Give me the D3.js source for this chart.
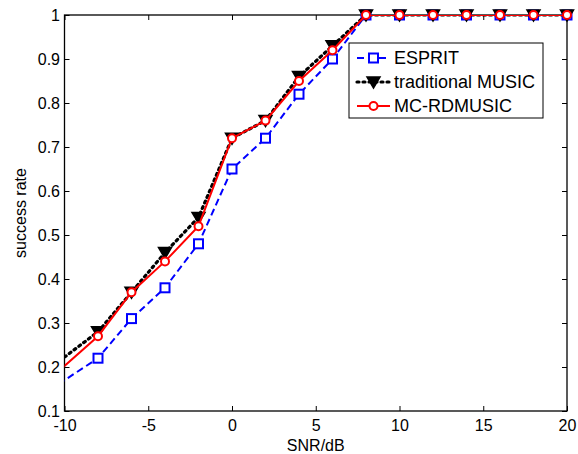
<!DOCTYPE html>
<html>
<head>
<meta charset="utf-8">
<script src="https://cdn.jsdelivr.net/npm/d3@7"></script>
<style>
  body { margin: 0; background: #fff; }
  text { font-family: "Liberation Sans", Arial, sans-serif; fill: #000; }
</style>
</head>
<body>
<div id="graph"></div>
<script>
// donnees (x = -12 est hors cadre, coupe par le clip)
var snr = [-12, -8, -6, -4, -2, 0, 2, 4, 6, 8, 10, 12, 14, 16, 18, 20];
var esprit = [0.12, 0.22, 0.31, 0.38, 0.48, 0.65, 0.72, 0.82, 0.90, 1, 1, 1, 1, 1, 1, 1];
var music = [0.165, 0.28, 0.37, 0.46, 0.54, 0.72, 0.76, 0.86, 0.93, 1, 1, 1, 1, 1, 1, 1];
var mcrd = [0.135, 0.27, 0.37, 0.44, 0.52, 0.72, 0.76, 0.85, 0.92, 1, 1, 1, 1, 1, 1, 1];
var xTicks = [-10, -5, 0, 5, 10, 15, 20];
var yTicks = [0.1, 0.2, 0.3, 0.4, 0.5, 0.6, 0.7, 0.8, 0.9, 1];
var legendNames = ["ESPRIT", "traditional MUSIC", "MC-RDMUSIC"];

var margin = {top: 15, right: 11, bottom: 43, left: 64.5},
    W = 578, H = 454,
    width = W - margin.left - margin.right,
    height = H - margin.top - margin.bottom;

var svg = d3.select("#graph").append("svg")
    .attr("width", W).attr("height", H);

var g = svg.append("g")
    .attr("transform", "translate(" + margin.left + "," + margin.top + ")");

var x = d3.scaleLinear().domain([-10, 20]).range([0, width]);
var y = d3.scaleLinear().domain([0.1, 1]).range([height, 0]);

svg.append("defs").append("clipPath").attr("id", "clip")
  .append("rect").attr("width", width).attr("height", height);

// axes (ticks vers l'interieur, facon matlab)
function styleAxis(sel) {
  sel.select(".domain").remove();
  sel.selectAll("line").attr("stroke", "#000").attr("stroke-width", 1);
  sel.selectAll("text").style("font-size", "16px");
}
g.append("g").attr("transform", "translate(0," + height + ")")
  .call(d3.axisBottom(x).tickValues(xTicks).tickSize(-5).tickPadding(9).tickFormat(function(d) { return String(d); }))
  .call(styleAxis);
g.append("g").call(d3.axisTop(x).tickValues(xTicks).tickSize(-5).tickFormat(""))
  .call(styleAxis);
g.append("g")
  .call(d3.axisLeft(y).tickValues(yTicks).tickSize(-5).tickPadding(4.5).tickFormat(function(d) { return d === 1 ? "1" : d.toFixed(1); }))
  .call(styleAxis);
g.append("g").attr("transform", "translate(" + width + ",0)")
  .call(d3.axisRight(y).tickValues(yTicks).tickSize(-5).tickFormat(""))
  .call(styleAxis);

g.append("rect").attr("width", width).attr("height", height)
  .attr("fill", "none").attr("stroke", "#000").attr("stroke-width", 1.3);

// labels
svg.append("text").attr("x", margin.left + width / 2).attr("y", 451)
  .attr("text-anchor", "middle").style("font-size", "16px").text("SNR/dB");
svg.append("text").attr("transform", "translate(26," + (margin.top + height / 2) + ") rotate(-90)")
  .attr("text-anchor", "middle").style("font-size", "16px").text("success rate");

var series = [
  {vals: esprit, color: "#0000ff", dash: "7,4", w: 2, marker: "square"},
  {vals: music, color: "#000", dash: "2,4", w: 3.2, marker: "tri"},
  {vals: mcrd, color: "#ff0000", dash: null, w: 2, marker: "circle"}
];

function drawMarker(sel, s) {
  if (s.marker === "square") {
    sel.append("rect").attr("x", -4.5).attr("y", -4.5).attr("width", 9).attr("height", 9)
      .attr("fill", "#fff").attr("stroke", s.color).attr("stroke-width", 2);
  } else if (s.marker === "tri") {
    sel.append("path").attr("d", "M-6.5,-5L6.5,-5L0,6Z")
      .attr("fill", "#000").attr("stroke", "#000").attr("stroke-width", 1.5);
  } else {
    sel.append("circle").attr("r", 4)
      .attr("fill", "#fff").attr("stroke", s.color).attr("stroke-width", 2);
  }
}

var line = d3.line().x(function(d) { return x(d[0]); }).y(function(d) { return y(d[1]); });

series.forEach(function(s) {
  var pts = snr.map(function(v, i) { return [v, s.vals[i]]; });
  g.append("path").datum(pts)
    .attr("clip-path", "url(#clip)")
    .attr("fill", "none").attr("stroke", s.color).attr("stroke-width", s.w)
    .attr("stroke-dasharray", s.dash)
    .attr("stroke-linecap", s.marker === "tri" ? "round" : "butt")
    .attr("d", line);
  pts.filter(function(p) { return p[0] >= -10; }).forEach(function(p) {
    var m = g.append("g").attr("transform", "translate(" + x(p[0]) + "," + y(p[1]) + ")");
    drawMarker(m, s);
  });
});

// legende
var lg = svg.append("g").attr("transform", "translate(349,43)");
lg.append("rect").attr("width", 194).attr("height", 75)
  .attr("fill", "#fff").attr("stroke", "#000").attr("stroke-width", 1);
series.forEach(function(s, i) {
  var yy = 15 + i * 24;
  lg.append("line").attr("x1", 8).attr("x2", 41).attr("y1", yy).attr("y2", yy)
    .attr("stroke", s.color).attr("stroke-width", s.w)
    .attr("stroke-dasharray", s.dash)
    .attr("stroke-linecap", s.marker === "tri" ? "round" : "butt");
  var m = lg.append("g").attr("transform", "translate(24.5," + yy + ")");
  drawMarker(m, s);
  lg.append("text").attr("x", 45).attr("y", yy + 6)
    .style("font-size", "18px").text(legendNames[i]);
});
</script>
</body>
</html>
